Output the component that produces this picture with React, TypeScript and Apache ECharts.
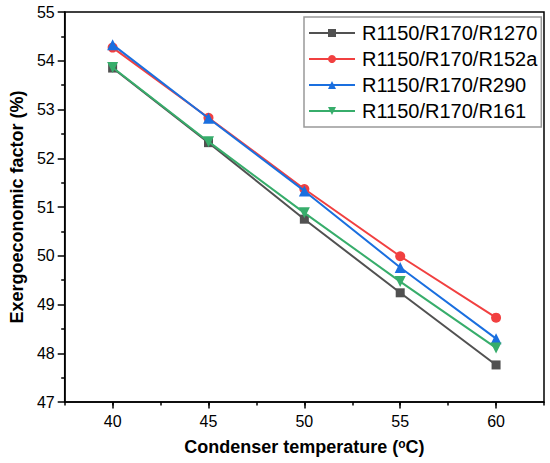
import React, { useEffect, useRef } from "react";
import * as echarts from "echarts";

const temperatures = [40, 45, 50, 55, 60];
const seriesNames = ["R1150/R170/R1270", "R1150/R170/R152a", "R1150/R170/R290", "R1150/R170/R161"];
const r1270 = [53.85, 52.32, 50.75, 49.24, 47.76];
const r152a = [54.27, 52.83, 51.37, 49.99, 48.73];
const r290 = [54.33, 52.82, 51.33, 49.76, 48.3];
const r161 = [53.86, 52.34, 50.88, 49.47, 48.11];
const colors = ["#515151", "#F14040", "#1A6FDF", "#37AD6B"];
const symbols = ["rect", "circle", "triangle", "path://M0,0 L10,0 L5,9 Z"];

const FONT = "Liberation Sans, Arial, sans-serif";

export default function App() {
  const ref = useRef<HTMLDivElement>(null);
  useEffect(() => {
    document.body.style.margin = "0";
    const chart = echarts.init(ref.current!, null, { renderer: "svg" });
    const dataSets = [r1270, r152a, r290, r161];
    chart.setOption({
      animation: false,
      backgroundColor: "#ffffff",
      textStyle: { fontFamily: FONT },
      grid: { left: 58, right: 6, top: 12, bottom: 61, show: true, borderColor: "#000", borderWidth: 1.5, backgroundColor: "transparent" },
      legend: {
        orient: "vertical",
        left: 304,
        top: 17,
        width: 237,
        padding: [6, 4, 6, 4],
        itemGap: 6,
        itemWidth: 46,
        itemHeight: 10,
        borderColor: "#999",
        borderWidth: 1.5,
        textStyle: { fontSize: 20, color: "#000", fontFamily: FONT, padding: [0, 0, 0, 2] },
        data: seriesNames,
      },
      xAxis: [
        {
          type: "value",
          position: "bottom",
          min: 37.5,
          max: 62.5,
          interval: 2.5,
          axisLine: { show: true, lineStyle: { color: "#000", width: 1.5 } },
          axisTick: { show: true, length: 3.5, lineStyle: { color: "#000", width: 1.5 } },
          axisLabel: { show: false },
          splitLine: { show: false },
        },
        {
          type: "value",
          position: "bottom",
          min: 37.5,
          max: 62.5,
          name: "Condenser temperature ({sup|o}C)",
          nameLocation: "middle",
          nameGap: 36,
          nameTextStyle: {
            fontSize: 18,
            fontWeight: "bold",
            color: "#000",
            fontFamily: FONT,
            rich: { sup: { fontSize: 12, fontWeight: "bold", verticalAlign: "top", color: "#000", fontFamily: FONT } },
          },
          axisLine: { show: false },
          axisTick: { show: true, length: 6.5, customValues: temperatures, lineStyle: { color: "#000", width: 1.5 } },
          axisLabel: {
            fontSize: 16,
            color: "#000",
            margin: 11,
            fontFamily: FONT,
            customValues: temperatures,
          },
          splitLine: { show: false },
        },
      ],
      yAxis: {
        type: "value",
        min: 47,
        max: 55,
        interval: 1,
        name: "Exergoeconomic factor (%)",
        nameLocation: "middle",
        nameGap: 36,
        nameTextStyle: { fontSize: 18, fontWeight: "bold", color: "#000", fontFamily: FONT },
        axisLine: { show: true, lineStyle: { color: "#000", width: 1.5 } },
        axisTick: { show: true, length: 7, lineStyle: { color: "#000", width: 1.5 } },
        minorTick: { show: true, splitNumber: 2, length: 3.5, lineStyle: { color: "#000", width: 1.5 } },
        axisLabel: { fontSize: 16, color: "#000", margin: 10, fontFamily: FONT },
        splitLine: { show: false },
        minorSplitLine: { show: false },
      },
      series: seriesNames.map((name, i) => ({
        name,
        type: "line",
        xAxisIndex: 0,
        data: temperatures.map((t, j) => [t, dataSets[i][j]]),
        symbol: symbols[i],
        symbolSize: i === 0 ? 9 : i === 1 ? 10 : 11,
        showSymbol: true,
        color: colors[i],
        lineStyle: { color: colors[i], width: 2 },
        itemStyle: { color: colors[i] },
        z: 2 + i,
      })),
    });
    return () => chart.dispose();
  }, []);
  return <div ref={ref} style={{ position: "absolute", left: 0, top: 0, width: 550, height: 463 }} />;
}
